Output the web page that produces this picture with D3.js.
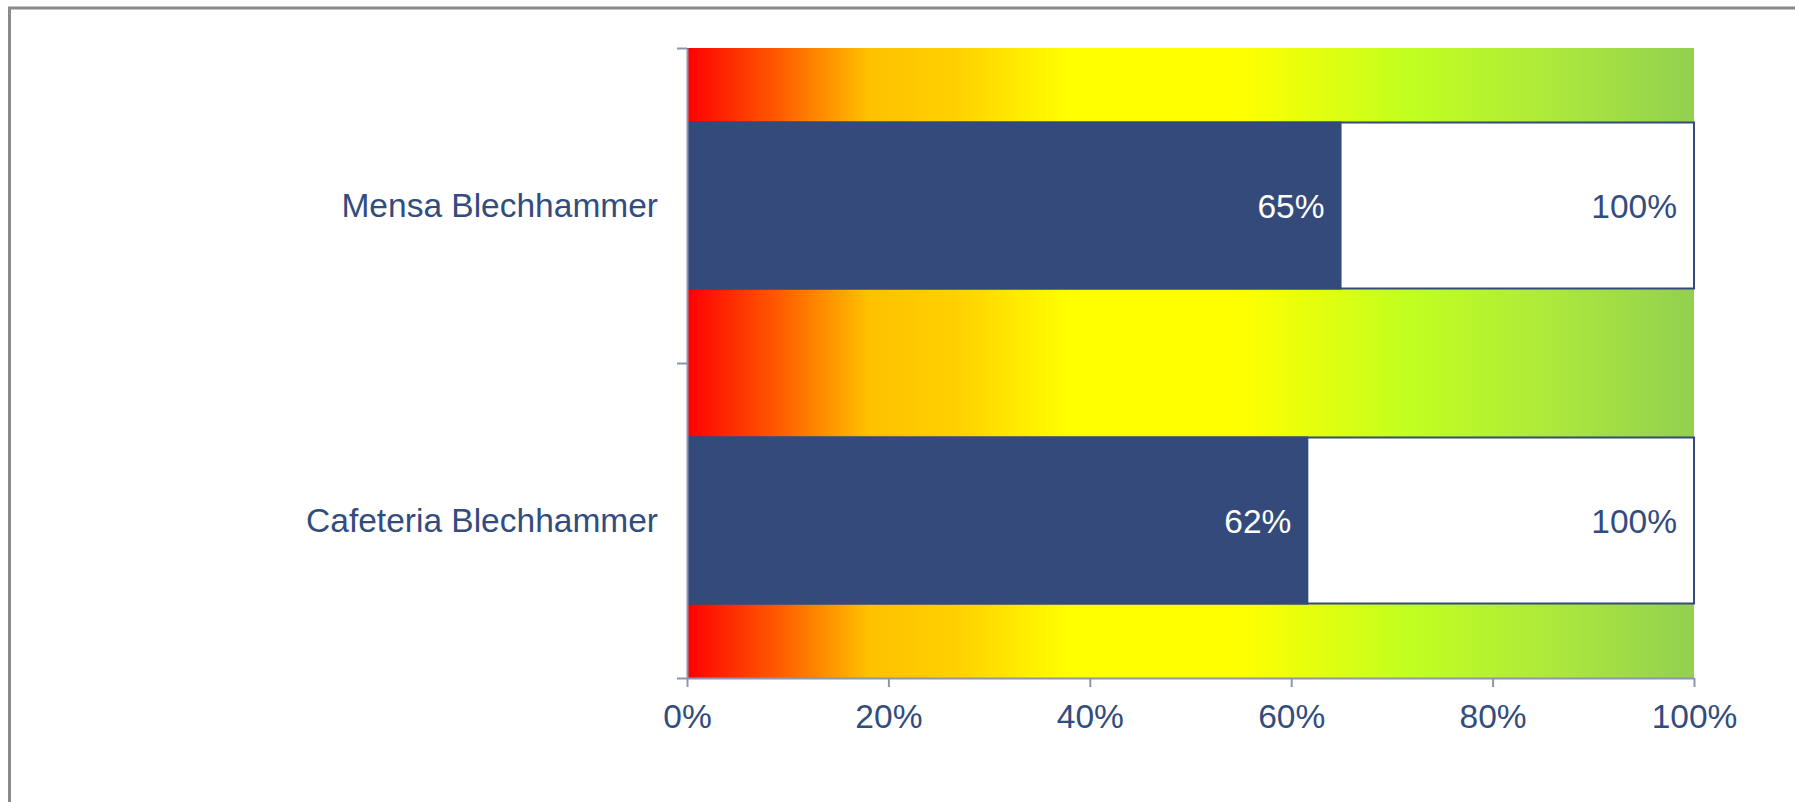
<!DOCTYPE html>
<html>
<head>
<meta charset="utf-8">
<script src="https://cdn.jsdelivr.net/npm/d3@7"></script>
<style>
  html, body { margin: 0; padding: 0; background: #ffffff; overflow: hidden; }
  svg { display: block; }
  text { font-family: "Liberation Sans", Arial, sans-serif; }
</style>
</head>
<body>
<svg id="chart" width="1795" height="802"></svg>
<script>
// ---- data ----
const categories = ["Mensa Blechhammer", "Cafeteria Blechhammer"];
const values = [0.65, 0.617];
const valueLabels = ["65%", "62%"];
const targets = [1, 1];
const targetLabels = ["100%", "100%"];
const xTicks = [0, 0.2, 0.4, 0.6, 0.8, 1];
const gradientOffsets = [0, 0.09, 0.18, 0.27, 0.38, 0.55, 0.72, 0.86, 1];
const gradientColors = ["#FF0000", "#FF5A00", "#FFC000", "#FFD200", "#FFFF00", "#FFFF00", "#C0FF20", "#ADE83C", "#92D050"];

// ---- layout ----
const W = 1795, H = 802;
const plot = { left: 687, right: 1694, top: 48, bottom: 678 };
const navy = "#334A7A";
const textColor = "#324C80";
const axisColor = "#8E95AE";
const fs = 33.5;

const svg = d3.select("#chart");

// outer frame (top + left only visible)
svg.append("path")
  .attr("d", `M9.5,${H + 10} L9.5,8 L${W + 10},8`)
  .attr("fill", "none")
  .attr("stroke", "#8a8a8a")
  .attr("stroke-width", 3);

const x = d3.scaleLinear().domain([0, 1]).range([plot.left, plot.right]);
const y = d3.scaleBand().domain(categories).range([plot.top, plot.bottom]).padding(0);
const yEdges = d3.scaleLinear().domain([0, categories.length]).range([plot.top, plot.bottom]);

// gradient background
const defs = svg.append("defs");
const grad = defs.append("linearGradient")
  .attr("id", "bg")
  .attr("x1", "0%").attr("x2", "100%").attr("y1", "0%").attr("y2", "0%");
grad.selectAll("stop")
  .data(gradientOffsets)
  .enter().append("stop")
  .attr("offset", d => d)
  .attr("stop-color", (d, i) => gradientColors[i]);

svg.append("rect")
  .attr("x", x(0))
  .attr("y", plot.top)
  .attr("width", x(1) - x(0))
  .attr("height", plot.bottom - plot.top)
  .attr("fill", "url(#bg)");

const barFrac = 0.527;
const barH = y.bandwidth() * barFrac;
const barY = c => y(c) + (y.bandwidth() - barH) / 2;

// target (white, outlined) bars
svg.selectAll("rect.target")
  .data(categories)
  .enter().append("rect")
  .attr("class", "target")
  .attr("x", x(0) + 1)
  .attr("y", c => barY(c))
  .attr("width", (c, i) => x(targets[i]) - x(0) - 1)
  .attr("height", barH)
  .attr("fill", "#ffffff")
  .attr("stroke", navy)
  .attr("stroke-width", 2);

// value bars
svg.selectAll("rect.value")
  .data(categories)
  .enter().append("rect")
  .attr("class", "value")
  .attr("x", x(0))
  .attr("y", c => barY(c) - 1)
  .attr("width", (c, i) => x(values[i]) - x(0))
  .attr("height", barH + 2)
  .attr("fill", navy);

// value labels
svg.selectAll("text.vlab")
  .data(categories)
  .enter().append("text")
  .attr("class", "vlab")
  .attr("x", (c, i) => x(values[i]) - 17)
  .attr("y", c => y(c) + y.bandwidth() / 2 + 12)
  .attr("text-anchor", "end")
  .attr("font-size", fs)
  .attr("fill", "#ffffff")
  .text((c, i) => valueLabels[i]);

svg.selectAll("text.tlab")
  .data(categories)
  .enter().append("text")
  .attr("class", "tlab")
  .attr("x", (c, i) => x(targets[i]) - 17)
  .attr("y", c => y(c) + y.bandwidth() / 2 + 12)
  .attr("text-anchor", "end")
  .attr("font-size", fs)
  .attr("fill", textColor)
  .text((c, i) => targetLabels[i]);

// y axis (tick marks at category boundaries)
const yAxis = svg.append("g")
  .attr("transform", `translate(${plot.left},0)`)
  .call(d3.axisLeft(yEdges).tickValues(d3.range(categories.length + 1)).tickSize(10).tickSizeOuter(0).tickFormat(""));
yAxis.select(".domain").attr("stroke", axisColor).attr("stroke-width", 2);
yAxis.selectAll(".tick line").attr("stroke", axisColor).attr("stroke-width", 2);

// category labels
svg.selectAll("text.cat")
  .data(categories)
  .enter().append("text")
  .attr("class", "cat")
  .attr("x", plot.left - 29)
  .attr("y", c => y(c) + y.bandwidth() / 2 + 11)
  .attr("text-anchor", "end")
  .attr("font-size", fs)
  .attr("fill", textColor)
  .text(c => c);

// x axis
const xAxis = svg.append("g")
  .attr("transform", `translate(0,${plot.bottom})`)
  .call(d3.axisBottom(x).tickValues(xTicks).tickFormat(d3.format(".0%")).tickSize(9).tickSizeOuter(0));
xAxis.select(".domain").attr("stroke", axisColor).attr("stroke-width", 2);
xAxis.selectAll(".tick line").attr("stroke", axisColor).attr("stroke-width", 2);
xAxis.selectAll(".tick text")
  .attr("y", 50)
  .attr("dy", 0)
  .attr("font-size", fs)
  .attr("font-family", "'Liberation Sans', Arial, sans-serif")
  .attr("fill", textColor);
</script>
</body>
</html>
